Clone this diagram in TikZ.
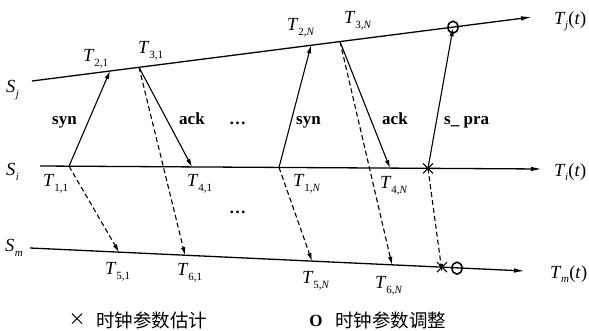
\documentclass[tikz,border=0pt]{standalone}
\usepackage{fontspec}
\setmainfont{Liberation Serif}
\newfontfamily\cjk{Noto Sans CJK SC}
\usetikzlibrary{arrows.meta,shapes.geometric}
\newcommand\TT[1]{\textit{T}\kern-0.3pt\raisebox{-5pt}{\fontsize{11}{11}\selectfont #1}}
\newcommand\TF[1]{\textit{T}\kern-0.5pt\raisebox{-4.5pt}{\fontsize{11}{11}\selectfont\textit{#1}}\kern0.3pt(\textit{t})}
\newcommand\SL[1]{\textit{S}\kern0.5pt\raisebox{-5pt}{\fontsize{11}{11}\selectfont\textit{#1}}}
\tikzset{
  axis/.style={line width=1.3pt,-{Latex[length=11pt,width=4.5pt]}},
  msg/.style={line width=1.1pt,-{Latex[length=8pt,width=4.5pt]}},
  dmsg/.style={msg,dash pattern=on 5pt off 3pt},
  lab/.style={inner sep=0pt,anchor=base west,font=\fontsize{18.5}{18.5}\selectfont},
  word/.style={inner sep=0pt,anchor=base west,font=\fontsize{17}{17}\selectfont\bfseries},
  xmark/.style={line width=1.1pt},
  omark/.style={line width=1.6pt,draw,ellipse,minimum width=10pt,minimum height=12pt,inner sep=0pt}
}
\begin{document}
\begin{tikzpicture}[x=1pt,y=-1pt]
\useasboundingbox (0,0) rectangle (589,330);
% timelines
\coordinate (Sj0) at (32,81);  \coordinate (Sj1) at (532,17);
\coordinate (Si0) at (40,166); \coordinate (Si1) at (542,169);
\coordinate (Sm0) at (30,248); \coordinate (Sm1) at (525,271);
\draw[axis] (Sj0) -- (Sj1);
\draw[axis] (Si0) -- (Si1);
\draw[axis] (Sm0) -- (Sm1);
% event points
\coordinate (T21) at (110,71.0);
\coordinate (T31) at (139,67.3);
\coordinate (T2N) at (311,45.3);
\coordinate (T3N) at (340,41.6);
\coordinate (Oj)  at (453,27.2);
\coordinate (T11) at (69,166.2);
\coordinate (T41) at (192,166.9);
\coordinate (T1N) at (279,167.4);
\coordinate (T4N) at (390,168.1);
\coordinate (Xi)  at (428,168.3);
\coordinate (T51) at (119,252.1);
\coordinate (T61) at (185,255.2);
\coordinate (T5N) at (312,261.1);
\coordinate (T6N) at (392,264.8);
\coordinate (Xm)  at (442,267.2);
\coordinate (Om)  at (457,268.2);
% messages
\draw[msg] (T11) -- (T21);
\draw[msg] (T31) -- (T41);
\draw[dmsg] (T31) -- (T61);
\draw[dmsg] (T11) -- (T51);
\draw[msg] (T1N) -- (T2N);
\draw[msg] (T3N) -- (T4N);
\draw[dmsg] (T3N) -- (T6N);
\draw[dmsg] (T1N) -- (T5N);
\draw[msg] (Xi) -- ([yshift=-1pt]Oj);
\draw[dmsg] (Xi) -- ([yshift=-5pt]Xm);
% marks
\draw[xmark] ([shift={(-5,-5)}]Xi) -- ([shift={(5,5)}]Xi) ([shift={(-5,5)}]Xi) -- ([shift={(5,-5)}]Xi);
\draw[xmark] ([shift={(-5,-5)}]Xm) -- ([shift={(5,5)}]Xm) ([shift={(-5,5)}]Xm) -- ([shift={(5,-5)}]Xm);
\node[omark] (Ojm) at (Oj) {};
\node[omark] (Omm) at (Om) {};
% line labels
\node[lab] (lSj) at (6,92) {\SL{j}};
\node[lab] (lSi) at (6,175) {\SL{i}};
\node[lab] (lSm) at (5,251) {\SL{m}};
\node[lab] (lTj) at (554,24) {\TF{j}};
\node[lab] (lTi) at (554,176) {\TF{i}};
\node[lab] (lTm) at (550,278) {\TF{m}};
% time stamps
\node[lab] (l21) at (83,61) {\TT{2,1}};
\node[lab] (l31) at (138,53) {\TT{3,1}};
\node[lab] (l2N) at (287,30) {\TT{2,\textit{N}}};
\node[lab] (l3N) at (344,23) {\TT{3,\textit{N}}};
\node[lab] (l11) at (43,186) {\TT{1,1}};
\node[lab] (l41) at (187,186) {\TT{4,1}};
\node[lab] (l1N) at (293,186) {\TT{1,\textit{N}}};
\node[lab] (l4N) at (380,188) {\TT{4,\textit{N}}};
\node[lab] (l51) at (105,274) {\TT{5,1}};
\node[lab] (l61) at (177,275) {\TT{6,1}};
\node[lab] (l5N) at (302,283) {\TT{5,\textit{N}}};
\node[lab] (l6N) at (375,288) {\TT{6,\textit{N}}};
% message labels
\node[word] (w1) at (52,124) {syn};
\node[word] (w2) at (179,124) {ack};
\node[word] (d1) at (229,124) {\dots};
\node[word] (w3) at (296,124) {syn};
\node[word] (w4) at (382,124) {ack};
\node[word] (w5) at (444,124) {s\_ pra};
\node[word] (d2) at (229,213) {\dots};
% legend
\node[inner sep=0pt,font=\fontsize{17}{17}\cjk] (lgx) at (77,320) {×};
\node[inner sep=0pt,anchor=west,font=\fontsize{18.5}{18.5}\cjk] (lgxt) at (96,320) {时钟参数估计};
\node[inner sep=0pt,font=\fontsize{17}{17}\selectfont\bfseries] (lgo) at (316,320.5) {O};
\node[inner sep=0pt,anchor=west,font=\fontsize{18.5}{18.5}\cjk] (lgot) at (335,320) {时钟参数调整};
\end{tikzpicture}
\end{document}
